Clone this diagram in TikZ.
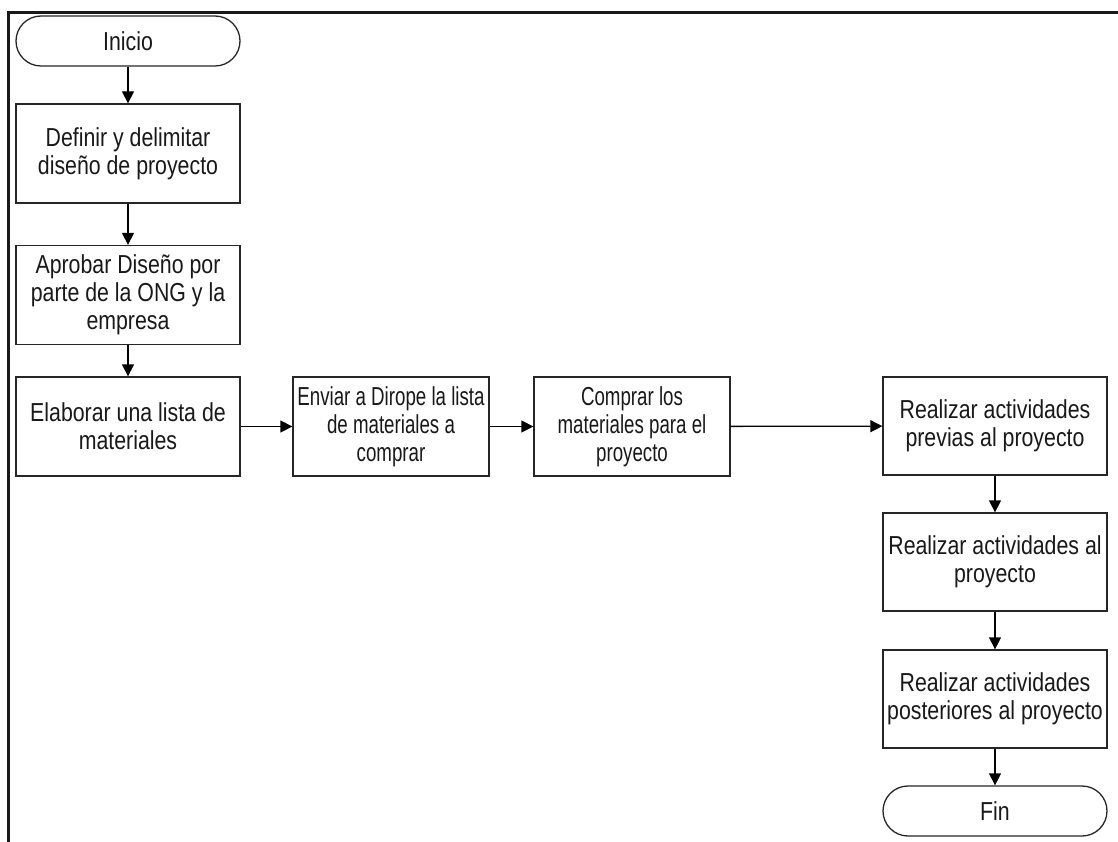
\documentclass[tikz,border=0pt]{standalone}
\usepackage{fontspec}
\setmainfont[FakeStretch=0.82]{Liberation Sans}
\newfontfamily\condensedfont[FakeStretch=0.72]{Liberation Sans}
\usetikzlibrary{arrows.meta}
\begin{document}
\begin{tikzpicture}[x=1pt,y=-1pt,
  every node/.style={font=\fontsize{26}{28}\selectfont, text=black!90, align=center, inner sep=0pt},
  proc/.style={draw=black!85, line width=1.3pt, fill=white, minimum width=224pt, minimum height=99pt},
  narrowproc/.style={proc, minimum width=196pt, font=\condensedfont\fontsize{26}{28}\selectfont},
  term/.style={draw=black!85, line width=1.3pt, fill=white, rounded corners=25pt, minimum width=224pt, minimum height=50pt},
  flow/.style={draw=black, line width=1.3pt, -{Triangle[length=12pt,width=12pt]}}]
\useasboundingbox (0,0) rectangle (1118,842);
% page frame
\draw[line width=2.5pt, black!90] (8.5,842) -- (8.5,12.5) -- (1118,12.5);
% left column
\node[term] (inicio) at (128,41) {Inicio};
\node[proc] (b1) at (128,153.5) {Definir y delimitar\\diseño de proyecto};
\node[proc] (b2) at (128,295) {Aprobar Diseño por\\parte de la ONG y la\\empresa};
\node[proc] (b3) at (128,426.5) {Elaborar una lista de\\materiales};
% middle row
\node[narrowproc] (b4) at (391,426.5) {Enviar a Dirope la lista\\de materiales a\\comprar};
\node[narrowproc] (b5) at (632,426.5) {Comprar los\\materiales para el\\proyecto};
% right column
\node[proc, minimum height=98pt] (b6) at (995,426) {Realizar actividades\\previas al proyecto};
\node[proc, minimum height=98pt] (b7) at (995,562) {Realizar actividades al\\proyecto};
\node[proc, minimum height=98pt] (b8) at (995,699) {Realizar actividades\\posteriores al proyecto};
\node[term] (fin) at (995,811) {Fin};
% connectors
\draw[flow] (inicio) -- (b1);
\draw[flow] (b1) -- (b2);
\draw[flow] (b2) -- (b3);
\draw[flow] (b3) -- (b4);
\draw[flow] (b4) -- (b5);
\draw[flow] (b5) -- (b6);
\draw[flow] (b6) -- (b7);
\draw[flow] (b7) -- (b8);
\draw[flow] (b8) -- (fin);
\end{tikzpicture}
\end{document}
